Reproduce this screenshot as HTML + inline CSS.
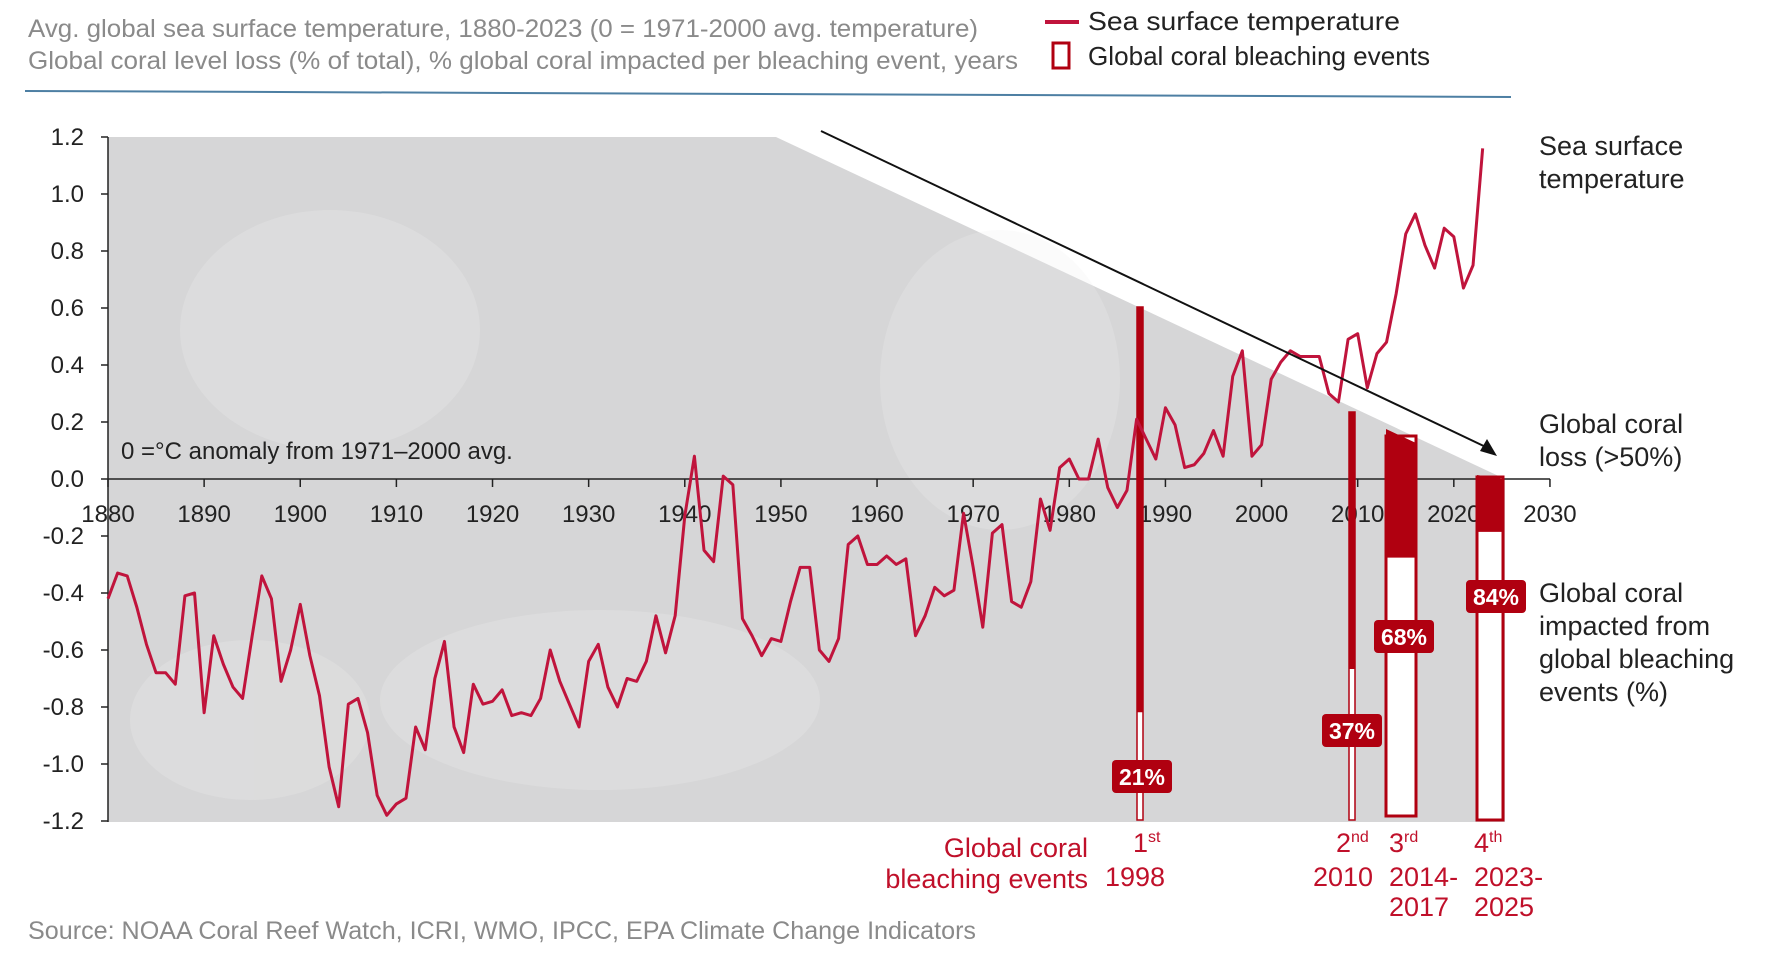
<!DOCTYPE html>
<html><head><meta charset="utf-8"><style>
body{margin:0;background:#fff;}
svg{display:block;font-family:"Liberation Sans",sans-serif;}
</style></head><body>
<svg width="1770" height="955" viewBox="0 0 1770 955">
<text x="28" y="37" font-size="25" fill="#8a8a8a" textLength="950" lengthAdjust="spacingAndGlyphs">Avg. global sea surface temperature, 1880-2023 (0 = 1971-2000 avg. temperature)</text>
<text x="28" y="69" font-size="25" fill="#8a8a8a" textLength="990" lengthAdjust="spacingAndGlyphs">Global coral level loss (% of total), % global coral impacted per bleaching event, years</text>
<line x1="1045" y1="22" x2="1079" y2="22" stroke="#c0143c" stroke-width="4"/>
<text x="1088" y="30" font-size="26" fill="#222" textLength="312" lengthAdjust="spacingAndGlyphs">Sea surface temperature</text>
<rect x="1053" y="43" width="16" height="25" fill="#fff" stroke="#b00010" stroke-width="3"/>
<text x="1088" y="65" font-size="26" fill="#222" textLength="342" lengthAdjust="spacingAndGlyphs">Global coral bleaching events</text>
<line x1="25" y1="91" x2="1511" y2="97" stroke="#4d7fa3" stroke-width="2"/>
<polygon points="108,137 776,137 1505,479 1505,822 108,822" fill="#d6d6d7"/>
<g opacity="0.25" fill="#eeeeee">
<ellipse cx="330" cy="330" rx="150" ry="120"/><ellipse cx="600" cy="700" rx="220" ry="90"/><ellipse cx="1000" cy="380" rx="120" ry="150"/><ellipse cx="250" cy="720" rx="120" ry="80"/>
</g>
<g id="axes"></g>
<g id="bars"></g>
<g id="series"></g>
<line x1="821" y1="131" x2="1490" y2="449" stroke="#111" stroke-width="2"/>
<polygon points="1497,456 1480,451 1487,439" fill="#111"/>
<text x="121" y="459" font-size="24" fill="#222">0 =°C anomaly from 1971–2000 avg.</text>
<g font-size="27" fill="#222">
<text x="1539" y="155">Sea surface</text>
<text x="1539" y="188">temperature</text>
<text x="1539" y="433">Global coral</text>
<text x="1539" y="466">loss (&gt;50%)</text>
<text x="1539" y="602">Global coral</text>
<text x="1539" y="635">impacted from</text>
<text x="1539" y="668">global bleaching</text>
<text x="1539" y="701">events (%)</text>
</g>
<g font-size="27" fill="#c0102a">
<text x="1088" y="857" text-anchor="end">Global coral</text>
<text x="1088" y="888" text-anchor="end">bleaching events</text>
<text x="1133" y="852">1<tspan font-size="16" dy="-10">st</tspan></text>
<text x="1105" y="886">1998</text>
<text x="1336" y="852">2<tspan font-size="16" dy="-10">nd</tspan></text>
<text x="1313" y="886">2010</text>
<text x="1389" y="852">3<tspan font-size="16" dy="-10">rd</tspan></text>
<text x="1389" y="886">2014-</text>
<text x="1389" y="916">2017</text>
<text x="1474" y="852">4<tspan font-size="16" dy="-10">th</tspan></text>
<text x="1474" y="886">2023-</text>
<text x="1474" y="916">2025</text>
</g>
<text x="28" y="939" font-size="25" fill="#8a8a8a" textLength="948" lengthAdjust="spacingAndGlyphs">Source: NOAA Coral Reef Watch, ICRI, WMO, IPCC, EPA Climate Change Indicators</text>
</svg>
<script>
const years = [];
for (let y = 1880; y <= 2023; y++) years.push(y);
const sst = [-0.42,-0.33,-0.34,-0.45,-0.58,-0.68,-0.68,-0.72,-0.41,-0.40,
-0.82,-0.55,-0.65,-0.73,-0.77,-0.55,-0.34,-0.42,-0.71,-0.60,
-0.44,-0.62,-0.76,-1.01,-1.15,-0.79,-0.77,-0.89,-1.11,-1.18,
-1.14,-1.12,-0.87,-0.95,-0.70,-0.57,-0.87,-0.96,-0.72,-0.79,
-0.78,-0.74,-0.83,-0.82,-0.83,-0.77,-0.60,-0.71,-0.79,-0.87,
-0.64,-0.58,-0.73,-0.80,-0.70,-0.71,-0.64,-0.48,-0.61,-0.48,
-0.13,0.08,-0.25,-0.29,0.01,-0.02,-0.49,-0.55,-0.62,-0.56,
-0.57,-0.43,-0.31,-0.31,-0.60,-0.64,-0.56,-0.23,-0.20,-0.30,
-0.30,-0.27,-0.30,-0.28,-0.55,-0.48,-0.38,-0.41,-0.39,-0.12,
-0.31,-0.52,-0.19,-0.16,-0.43,-0.45,-0.36,-0.07,-0.18,0.04,
0.07,0.00,0.00,0.14,-0.03,-0.10,-0.04,0.21,0.14,0.07,
0.25,0.19,0.04,0.05,0.09,0.17,0.08,0.36,0.45,0.08,
0.12,0.35,0.41,0.45,0.43,0.43,0.43,0.30,0.27,0.49,
0.51,0.32,0.44,0.48,0.65,0.86,0.93,0.82,0.74,0.88,
0.85,0.67,0.75,1.16];
const yTicks = [1.2,1.0,0.8,0.6,0.4,0.2,0.0,-0.2,-0.4,-0.6,-0.8,-1.0,-1.2];
const xTicks = [1880,1890,1900,1910,1920,1930,1940,1950,1960,1970,1980,1990,2000,2010,2020,2030];
const eventLabels = ["21%","37%","68%","84%"];
const eventImpact = [21,37,68,84];

const NS = "http://www.w3.org/2000/svg";
const X = yr => 108 + (yr - 1880) * 9.613;
const Y = v => 479 - v * 285;
function mk(tag, attrs, parent){const e=document.createElementNS(NS,tag);for(const k in attrs)e.setAttribute(k,attrs[k]);parent.appendChild(e);return e;}

const ax = document.getElementById('axes');
let l = mk('line',{x1:108,y1:137,x2:108,y2:822,stroke:'#222','stroke-width':1.5},ax);


l = mk('line',{x1:108,y1:479,x2:X(2030),y2:479,stroke:'#222','stroke-width':1.5},ax);


yTicks.forEach(v=>{
  mk('line',{x1:101,x2:108,y1:Y(v),y2:Y(v),stroke:'#222','stroke-width':1.5},ax);
  const t = mk('text',{x:84,y:Y(v)+8,'font-size':24,'text-anchor':'end',fill:'#222'},ax);
  t.textContent = v.toFixed(1);
  
  
});
xTicks.forEach(yr=>{
  mk('line',{x1:X(yr),x2:X(yr),y1:479,y2:487,stroke:'#222','stroke-width':1.5},ax);
  const t = mk('text',{x:X(yr),y:522,'font-size':24,'text-anchor':'middle',fill:'#222'},ax);
  t.textContent = yr;
  
  
});

const bars = document.getElementById('bars');
const barGeom = [
  {x:1137,w:6,topL:307,topR:307,bot:820,lx:1142,ly:777},
  {x:1349,w:6,topL:412,topR:412,bot:820,lx:1352,ly:731},
  {x:1386,w:30,topL:429,topR:443,bot:816,lx:1404,ly:637},
  {x:1477,w:26,topL:475,topR:479,bot:820,lx:1496,ly:597}
];
barGeom.forEach((g,i)=>{
  const top = (g.topL+g.topR)/2;
  const split = g.bot - (g.bot - top) * eventImpact[i] / 100;
  let r = mk('rect',{x:g.x,y:top,width:g.w,height:g.bot-top,fill:'#fff',stroke:'#b00010','stroke-width':g.w>10?3:1.5},bars);
  
  
  r = mk('polygon',{points:`${g.x},${g.topL} ${g.x+g.w},${g.topR} ${g.x+g.w},${split} ${g.x},${split}`,fill:'#b00010'},bars);
  
  
  const b = mk('rect',{x:g.lx-30,y:g.ly-17,width:60,height:33,rx:4,fill:'#b00010'},bars);
  
  
  const t = mk('text',{x:g.lx,y:g.ly+8,'font-size':23,'font-weight':'bold','text-anchor':'middle',fill:'#fff'},bars);
  t.textContent = eventLabels[i];
  
  
});

const s = document.getElementById('series');
const p = mk('polyline',{points:years.map((yr,i)=>X(yr)+','+Y(sst[i])).join(' '),fill:'none',stroke:'#c0143c','stroke-width':3,'stroke-linejoin':'round'},s);


</script>
</body></html>
